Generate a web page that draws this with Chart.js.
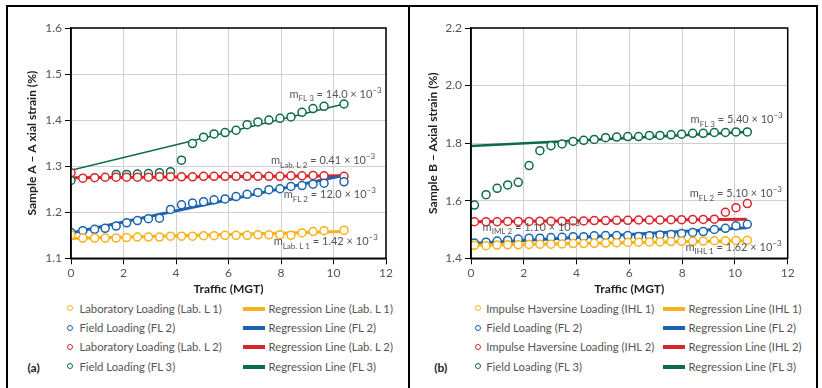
<!DOCTYPE html>
<html>
<head>
<meta charset="utf-8">
<script src="https://cdn.jsdelivr.net/npm/chart.js@4.4.1/dist/chart.umd.min.js"></script>
<style>
  body { margin: 0; width: 822px; height: 388px; background: #fff; position: relative; overflow: hidden; font-family: Lato, "Noto Sans", sans-serif; }
  canvas { position: absolute; top: 0; }
  #frame { position: absolute; left: 6px; top: 5px; width: 812px; height: 400px; border: 2px solid #000; box-sizing: border-box; }
  #divider { position: absolute; left: 408px; top: 5px; width: 2px; height: 400px; background: #000; }
  .lg { position: absolute; font-size: 11.3px; color: #555; white-space: nowrap; line-height: 14px; transform: translateY(-50%); }
  .mk { position: absolute; width: 4px; height: 4px; border-radius: 50%; border: 1.3px solid; background: #fff; }
  .sw { position: absolute; width: 22px; height: 4px; }
  .tag { position: absolute; font-size: 12px; font-weight: bold; color: #222; transform: translateY(-50%); }
</style>
</head>
<body>
<div id="frame"></div>
<div id="divider"></div>
<canvas id="chartA" width="409" height="300" style="left:0"></canvas>
<canvas id="chartB" width="407" height="300" style="left:410px"></canvas>
<script>
// ---- Sample A (left panel) ----
const trafficA = [0, 0.45, 0.9, 1.3, 1.72, 2.12, 2.53, 2.95, 3.37, 3.79, 4.21, 4.63, 5.05, 5.45, 5.87, 6.29, 6.71, 7.12, 7.54, 7.96, 8.38, 8.8, 9.22, 9.64, 10.4];
const labL1A = [1.151, 1.144, 1.144, 1.144, 1.144, 1.145, 1.146, 1.146, 1.146, 1.148, 1.148, 1.148, 1.149, 1.149, 1.150, 1.150, 1.150, 1.151, 1.151, 1.151, 1.150, 1.155, 1.158, 1.160, 1.161];
const fl2A = [1.156, 1.160, 1.163, 1.165, 1.170, 1.177, 1.182, 1.186, 1.187, 1.206, 1.216, 1.220, 1.223, 1.227, 1.229, 1.234, 1.239, 1.243, 1.249, 1.251, 1.256, 1.258, 1.261, 1.263, 1.266];
const labL2A = [1.286, 1.274, 1.275, 1.276, 1.276, 1.276, 1.276, 1.276, 1.277, 1.277, 1.277, 1.277, 1.278, 1.278, 1.278, 1.278, 1.278, 1.278, 1.278, 1.278, 1.279, 1.279, 1.280, 1.279, 1.278];
const fl3A = [1.269, null, null, null, 1.282, 1.282, 1.283, 1.284, 1.286, 1.288, 1.313, 1.349, 1.363, 1.370, 1.373, 1.378, 1.390, 1.396, 1.400, 1.404, 1.407, 1.417, 1.425, 1.430, 1.435];
const regXA = [0, 10.4];
const regL1A = [1.143, 1.158];
const regFL2A = [1.155, 1.280];
const regL2A = [1.275, 1.279];
const regFL3A = [1.291, 1.435];

// ---- Sample B (right panel) ----
const trafficB = [0.13, 0.57, 0.99, 1.39, 1.79, 2.2, 2.61, 3.03, 3.45, 3.87, 4.27, 4.67, 5.1, 5.52, 5.94, 6.35, 6.76, 7.16, 7.58, 7.98, 8.4, 8.8, 9.22, 9.64, 10.04, 10.47];
const ihl1B = [1.445, 1.444, 1.446, 1.447, 1.447, 1.448, 1.449, 1.449, 1.450, 1.451, 1.451, 1.452, 1.453, 1.454, 1.455, 1.456, 1.457, 1.457, 1.458, 1.459, 1.459, 1.460, 1.461, 1.461, 1.462, 1.463];
const fl2B = [1.453, 1.456, 1.460, 1.463, 1.467, 1.470, 1.470, 1.472, 1.473, 1.475, 1.475, 1.478, 1.479, 1.479, 1.479, 1.476, 1.478, 1.481, 1.483, 1.486, 1.490, 1.493, 1.500, 1.504, 1.513, 1.518];
const ihl2B = [1.527, 1.527, 1.527, 1.528, 1.528, 1.528, 1.529, 1.529, 1.529, 1.530, 1.530, 1.531, 1.531, 1.532, 1.532, 1.533, 1.533, 1.533, 1.534, 1.534, 1.535, 1.535, 1.536, 1.560, 1.576, 1.590];
const fl3B = [1.585, 1.621, 1.643, 1.655, 1.664, 1.722, 1.774, 1.791, 1.797, 1.806, 1.810, 1.813, 1.819, 1.821, 1.823, 1.823, 1.827, 1.827, 1.829, 1.831, 1.834, 1.834, 1.837, 1.837, 1.839, 1.839];
const regXB = [0, 10.45];
const regIHL1B = [1.445, 1.461];
const regFL2B = [1.451, 1.506];
const regIHL2B = [1.527, 1.536];
const regFL3B = [1.790, 1.839];

// axis ticks
const xTicks = [0, 2, 4, 6, 8, 10, 12];
const yTicksA = [1.1, 1.2, 1.3, 1.4, 1.5, 1.6];
const yTicksB = [1.4, 1.6, 1.8, 2.0, 2.2];

// slope labels
const notesA = [
  { x: 8.32, y: 1.449, sub: 'FL 3', val: '14.0' },
  { x: 7.62, y: 1.304, sub: 'Lab. L 2', val: '0.41' },
  { x: 8.1, y: 1.230, sub: 'FL 2', val: '12.0' },
  { x: 7.72, y: 1.128, sub: 'Lab. L 1', val: '1.42' }
];
const notesB = [
  { x: 8.32, y: 1.869, sub: 'FL 3', val: '5.40' },
  { x: 8.29, y: 1.612, sub: 'FL 2', val: '5.10' },
  { x: 0.44, y: 1.495, sub: 'IML 2', val: '1.10' },
  { x: 8.13, y: 1.427, sub: 'IHL 1', val: '1.62' }
];

const YELLOW = '#f8b31c', BLUE = '#1b64ae', RED = '#d9252b', GREEN = '#0c6b4e';
const FONT = 'Lato, "Noto Sans", sans-serif';

const toPoints = (xs, ys) => xs.map((x, i) => ({ x: x, y: ys[i] })).filter(p => p.y !== null);

const scatterSet = (label, xs, ys, color) => ({
  type: 'scatter', label: label, data: toPoints(xs, ys), order: 0,
  borderColor: color, backgroundColor: '#fff', pointRadius: 4, pointBorderWidth: 1.5
});
const lineSet = (label, xs, ys, color, width) => ({
  type: 'line', label: label, data: toPoints(xs, ys), order: 1,
  borderColor: color, backgroundColor: color, borderWidth: width, pointRadius: 0, tension: 0
});

// black box around the plot area
const frameBox = {
  id: 'frameBox',
  afterDatasetsDraw(chart) {
    const a = chart.chartArea, ctx = chart.ctx;
    ctx.save();
    ctx.strokeStyle = '#000';
    ctx.lineWidth = 1.5;
    ctx.strokeRect(a.left, a.top, a.right - a.left, a.bottom - a.top);
    ctx.restore();
  }
};

// "m_sub = val x 10^-3" labels
const slopeNotes = (notes) => ({
  id: 'slopeNotes',
  afterDatasetsDraw(chart) {
    const ctx = chart.ctx, sx = chart.scales.x, sy = chart.scales.y;
    ctx.save();
    ctx.fillStyle = '#555';
    ctx.textBaseline = 'alphabetic';
    notes.forEach(n => {
      let px = sx.getPixelForValue(n.x);
      const py = sy.getPixelForValue(n.y);
      const parts = [['m', 11, 0], [n.sub, 8, 3.5], [' = ' + n.val + ' \u00d7 10', 11, 0], ['\u22123', 8, -5]];
      parts.forEach(([t, size, dy]) => {
        ctx.font = size + 'px ' + FONT;
        ctx.fillText(t, px, py + dy);
        px += ctx.measureText(t).width;
      });
    });
    ctx.restore();
  }
});

const makeChart = (id, datasets, yTicks, yTitle, notes, yWidth, yTitlePad, padRight) => {
  return new Chart(document.getElementById(id), {
    data: { datasets: datasets },
    options: {
      responsive: false,
      animation: false,
      layout: { padding: { top: 28, right: padRight, bottom: 0, left: 0 } },
      plugins: { legend: { display: false }, tooltip: { enabled: false } },
      scales: {
        x: {
          type: 'linear', min: 0, max: 12,
          afterFit: (s) => { s.height = 41.7; },
          afterBuildTicks: (s) => { s.ticks = xTicks.map(v => ({ value: v })); },
          ticks: { color: '#555', padding: 2, font: { family: FONT, size: 12 } },
          grid: { color: '#d0d0d0', tickColor: '#000', tickLength: 6 },
          border: { color: '#000', width: 1.5 },
          title: { display: true, text: 'Traffic (MGT)', color: '#222', padding: { top: 0, bottom: 3.5 }, font: { family: FONT, size: 12, weight: 'bold' } }
        },
        y: {
          type: 'linear', min: yTicks[0], max: yTicks[yTicks.length - 1],
          afterFit: (s) => { s.width = yWidth; },
          afterBuildTicks: (s) => { s.ticks = yTicks.map(v => ({ value: v })); },
          ticks: { color: '#555', padding: 3, font: { family: FONT, size: 12 }, callback: (v) => v.toFixed(1) },
          grid: { color: '#d0d0d0', tickColor: '#000', tickLength: 6 },
          border: { color: '#000', width: 1.5 },
          title: { display: true, text: yTitle, color: '#222', padding: { top: yTitlePad, bottom: 0 }, font: { family: FONT, size: 12, weight: 'bold' } }
        }
      }
    },
    plugins: [frameBox, slopeNotes(notes)]
  });
};

const chartA = makeChart('chartA', [
  scatterSet('Laboratory Loading (Lab. L 1)', trafficA, labL1A, YELLOW),
  lineSet('Regression Line (Lab. L 1)', regXA, regL1A, YELLOW, 3),
  scatterSet('Field Loading (FL 2)', trafficA, fl2A, BLUE),
  lineSet('Regression Line (FL 2)', regXA, regFL2A, BLUE, 3),
  scatterSet('Laboratory Loading (Lab. L 2)', trafficA, labL2A, RED),
  lineSet('Regression Line (Lab. L 2)', regXA, regL2A, RED, 3),
  scatterSet('Field Loading (FL 3)', trafficA, fl3A, GREEN),
  lineSet('Regression Line (FL 3)', regXA, regFL3A, GREEN, 1.5)
], yTicksA, 'Sample A \u2013 A xial strain (%)', notesA, 71, 24.5, 23);

const chartB = makeChart('chartB', [
  scatterSet('Impulse Haversine Loading (IHL 1)', trafficB, ihl1B, YELLOW),
  lineSet('Regression Line (IHL 1)', regXB, regIHL1B, YELLOW, 3),
  scatterSet('Field Loading (FL 2)', trafficB, fl2B, BLUE),
  lineSet('Regression Line (FL 2)', regXB, regFL2B, BLUE, 3),
  scatterSet('Impulse Haversine Loading (IHL 2)', trafficB, ihl2B, RED),
  lineSet('Regression Line (IHL 2)', regXB, regIHL2B, RED, 3),
  scatterSet('Field Loading (FL 3)', trafficB, fl3B, GREEN),
  lineSet('Regression Line (FL 3)', regXB, regFL3B, GREEN, 2.5)
], yTicksB, 'Sample B \u2013 Axial strain (%)', notesB, 61, 15.5, 29.3);

// two-column legend under each panel, built from the chart datasets
const addEl = (cls, text, left, top, css) => {
  const el = document.createElement('div');
  el.className = cls;
  if (text) el.textContent = text;
  el.style.left = left + 'px';
  el.style.top = top + 'px';
  Object.assign(el.style, css || {});
  document.body.appendChild(el);
  return el;
};

const renderLegend = (chart, tag, tagX, markX, textX, swX, swTextX) => {
  chart.data.datasets.forEach((ds, i) => {
    const rowY = 308.5 + 19.4 * Math.floor(i / 2);
    if (ds.type === 'scatter') {
      addEl('mk', '', markX - 3.3, rowY - 3.3, { borderColor: ds.borderColor });
      addEl('lg', ds.label, textX, rowY);
    } else {
      addEl('sw', '', swX, rowY - 2, { background: ds.borderColor });
      addEl('lg', ds.label, swTextX, rowY);
    }
  });
  addEl('tag', tag, tagX, 366.7);
};

renderLegend(chartA, '(a)', 27.5, 70.4, 79.4, 242.6, 268.5);
renderLegend(chartB, '(b)', 434.3, 478.3, 486.2, 663, 688.6);
</script>
</body>
</html>
